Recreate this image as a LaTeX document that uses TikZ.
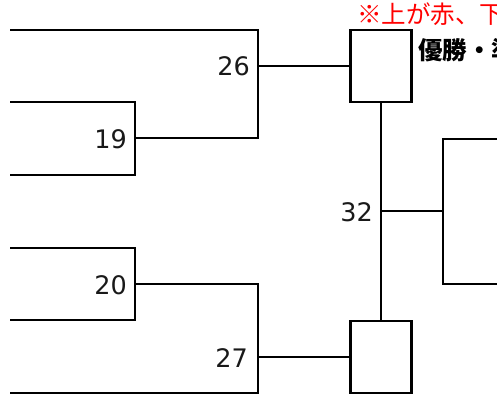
\documentclass[tikz,border=0pt]{standalone}
\usepackage{fontspec}
\setmainfont{DejaVu Sans}
\newfontfamily\jp{Noto Sans CJK JP}
\begin{document}
\begin{tikzpicture}[x=1pt,y=-1pt,
  wire/.style={draw=black, line width=2.2pt},
  num/.style={font=\fontsize{25.5}{25.5}\selectfont, anchor=east, inner sep=0pt, text=black!90},
  winbox/.style={draw=black, line width=2.2pt, minimum width=61pt, minimum height=72pt, inner sep=0pt, fill=white},
  note/.style={font=\jp\fontsize{24.5}{24.5}\selectfont, anchor=west, inner sep=0pt}]
\useasboundingbox (0,0) rectangle (497,394);
% boxes
\node[winbox] (top) at (381,66) {};
\node[winbox] (bot) at (381,357) {};
% junction coordinates
\coordinate (a1) at (10,30);
\coordinate (j26) at (258,66);
\coordinate (j19) at (135,138);
\coordinate (a19t) at (10,102);
\coordinate (a19b) at (10,175);
\coordinate (b19) at (258,138);
\coordinate (a20t) at (10,248);
\coordinate (a20b) at (10,320);
\coordinate (j20) at (135,284);
\coordinate (j27) at (258,357);
\coordinate (a27) at (10,393);
\coordinate (j32) at (381,211);
\coordinate (r32) at (443,211);
\coordinate (rt) at (510,139);
\coordinate (rb) at (510,284);
% numbers
\node[num] (n26) at (250,66) {26};
\node[num] (n19) at (127,139) {19};
\node[num] (n20) at (127,285) {20};
\node[num] (n27) at (248,358) {27};
\node[num] (n32) at (373,212) {32};
% upper bracket
\draw[wire] (a1) -| (b19) -- (j19);
\draw[wire] (a19t) -| (j19) |- (a19b);
\draw[wire] (j26) -- (top.west);
% lower bracket
\draw[wire] (a20t) -| (j20) |- (a20b);
\draw[wire] (j20) -| (j27) |- (a27);
\draw[wire] (j27) -- (bot.west);
% final
\draw[wire] (top.south) -- (bot.north);
\draw[wire] (j32) -- (r32);
\draw[wire] (rt) -| (r32) |- (rb);
% notes
\node[note, text=red] (red) at (357,14) {※上が赤、下};
\node[note, font=\jp\bfseries\fontsize{24.5}{24.5}\selectfont] (title) at (418,50) {優勝・準};
\end{tikzpicture}
\end{document}
